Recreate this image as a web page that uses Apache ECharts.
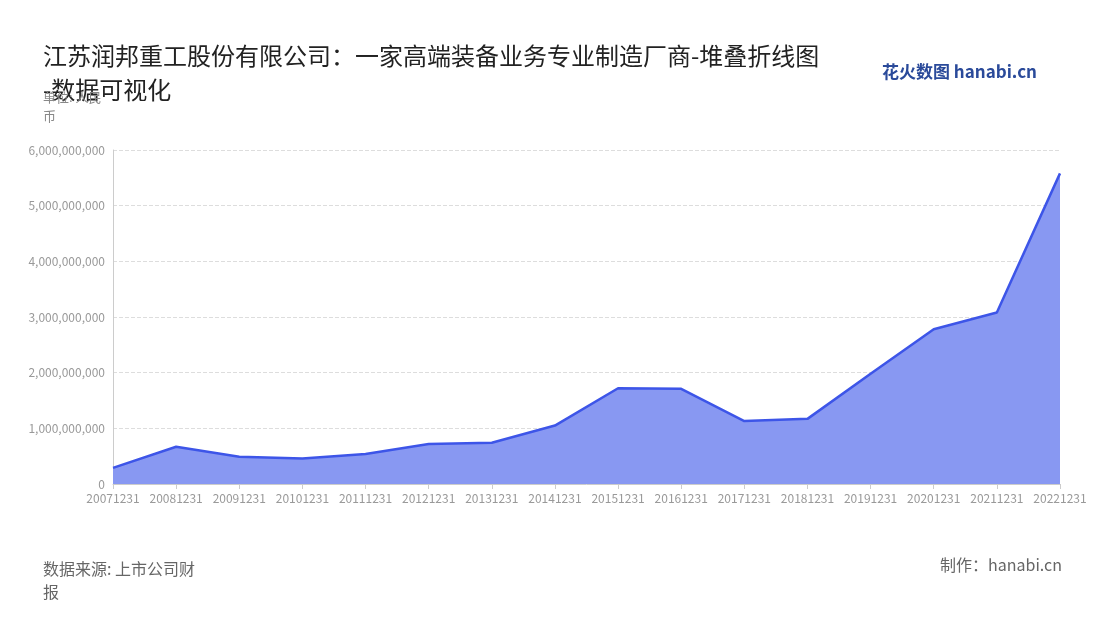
<!DOCTYPE html>
<html><head><meta charset="utf-8">
<script src="https://cdn.jsdelivr.net/npm/echarts@6/dist/echarts.min.js"></script>
<style>html,body{margin:0;padding:0;background:#fff}#c{width:1100px;height:620px}</style>
</head><body><div id="c"></div>
<script>
const categories = ['20071231','20081231','20091231','20101231','20111231','20121231','20131231','20141231','20151231','20161231','20171231','20181231','20191231','20201231','20211231','20221231'];
const values = [290e6,670e6,490e6,460e6,540e6,720e6,740e6,1050e6,1720e6,1710e6,1130e6,1170e6,1980e6,2780e6,3080e6,5580e6];
const font = '"Noto Sans CJK SC","Noto Sans",sans-serif';
const chart = echarts.init(document.getElementById('c'));
chart.setOption({
  animation:false,
  textStyle:{fontFamily:font},
  title:[
    {text:'江苏润邦重工股份有限公司：一家高端装备业务专业制造厂商-堆叠折线图\n-数据可视化',left:38,top:34,textStyle:{fontSize:24,fontWeight:'normal',color:'#222',lineHeight:34,fontFamily:font}},
    {text:'单位: 人民\n币',left:38,top:83,textStyle:{fontSize:13,fontWeight:'normal',color:'#888',lineHeight:19,fontFamily:font}},
    {text:'数据来源: 上市公司财\n报',left:38,top:552,textStyle:{fontSize:16,fontWeight:'normal',color:'#666',lineHeight:23,fontFamily:font}},
    {text:'制作：hanabi.cn',right:33,top:552,textStyle:{fontSize:16,fontWeight:'normal',color:'#666',fontFamily:font}},
    {text:'花火数图 hanabi.cn',right:58,top:58,textStyle:{fontSize:17,fontWeight:'bold',color:'#2a4a9a',fontFamily:font}}
  ],
  grid:{left:113,right:40,top:150,bottom:136},
  xAxis:{type:'category',data:categories,boundaryGap:false,
    axisLine:{lineStyle:{color:'#ccc'}},axisTick:{show:true,lineStyle:{color:'#ccc'}},
    axisLabel:{color:'#999',fontSize:12,interval:0}},
  yAxis:{type:'value',min:0,max:6e9,interval:1e9,
    axisLine:{show:true,lineStyle:{color:'#ccc'}},
    axisLabel:{color:'#999',fontSize:12,formatter:v=>v.toLocaleString('en-US')},
    splitLine:{lineStyle:{type:'dashed',color:'#ddd'}}},
  series:[{type:'line',data:values,symbol:'none',stack:'a',
    lineStyle:{color:'#3d55e8',width:2.5},
    areaStyle:{color:'#8898f2',opacity:1}}]
});
</script></body></html>
